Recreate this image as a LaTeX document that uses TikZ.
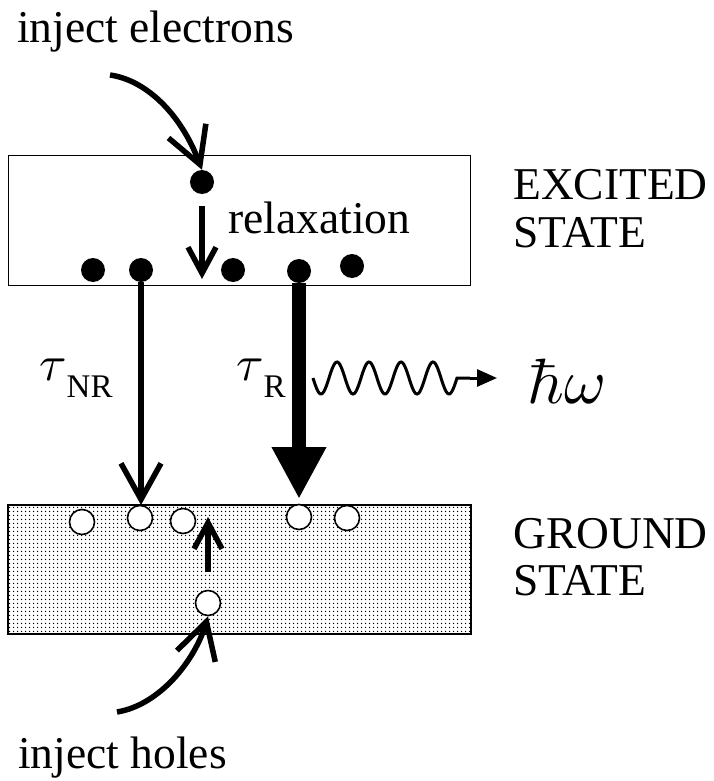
\documentclass[tikz,border=0pt]{standalone}
\usepackage[no-math]{fontspec}
\setmainfont{Liberation Serif}
\usepackage{graphicx}
\usetikzlibrary{arrows.meta,patterns}
\pgfdeclarepatternformonly{stip}{\pgfpointorigin}{\pgfpoint{4pt}{4pt}}{\pgfpoint{4pt}{4pt}}{\pgfpathcircle{\pgfpoint{2pt}{2pt}}{0.9pt}\pgfusepath{fill}}
\newcommand{\bigmath}[2]{\scalebox{#1}{\fontsize{10}{12}\selectfont$#2$}}
\begin{document}
\begin{tikzpicture}[x=1pt,y=-1pt,
  big/.style={font=\fontsize{45.5}{48}\selectfont, inner sep=0, anchor=base west},
  elec/.style={circle, fill, inner sep=0, minimum size=24},
  hole/.style={circle, draw, fill=white, line width=1.6, inner sep=0, minimum size=25},
  lvbox/.style={draw, line width=1.3, inner sep=0, anchor=north west, minimum width=462, minimum height=130},
  arr/.style={line width=5.5, -{Straight Barb[length=36,width=40]}},
  arrs/.style={line width=5.5, -{Straight Barb[length=26,width=28]}},
  thickarr/.style={line width=14, -{Triangle[length=52,width=51]}},
  wave/.style={line width=3}
]
\useasboundingbox (0,0) rectangle (714,781);
\fill[white] (0,0) rectangle (714,781);

% boxes
\node[lvbox] (exc) at (8,155) {};
\node[lvbox, pattern=stip, minimum height=128] (gnd) at (8,505) {};
\draw[line width=1.3] (gnd.north west) rectangle (gnd.south east);

% electrons
\node[elec] (e0) at (202,182) {};
\node[elec] (e1) at (93,270) {};
\node[elec] (e2) at (141,270) {};
\node[elec] (e3) at (233,270) {};
\node[elec] (e4) at (299,271) {};
\node[elec] (e5) at (352,266) {};

% holes
\node[hole] (h1) at (82,522) {};
\node[hole] (h2) at (140,518) {};
\node[hole] (h3) at (183,521) {};
\node[hole] (h4) at (299,517) {};
\node[hole] (h5) at (347,518) {};
\node[hole] (h0) at (208,603) {};

% texts
\node[big] (tie) at (17,43) {inject electrons};
\node[big] (trel) at (228,233) {relaxation};
\node[big] (texc1) at (513,199) {EXCITED};
\node[big] (texc2) at (513,247) {STATE};
\node[big] (tgnd1) at (513,548) {GROUND};
\node[big] (tgnd2) at (513,595) {STATE};
\node[big] (tih) at (18,768) {inject holes};
\node[big] (tnr) at (39,380) {\bigmath{5}{\tau}\raisebox{-17pt}{\fontsize{33}{35}\selectfont NR}};
\node[big] (tr) at (236,380) {\bigmath{5}{\tau}\raisebox{-17pt}{\fontsize{33}{35}\selectfont R}};
\node[big] (hw) at (527,403) {\bigmath{6.4}{\hbar\omega}};

% coordinates
\coordinate (ie) at (110,75);
\coordinate (ih) at (117,712);
\coordinate (relend) at (202,279);
\coordinate (hupend) at (208,517);
\coordinate (ws) at (313,378);
\coordinate (wtip) at (497,378);

% connectors
\draw[arr] (ie) .. controls (145,80) and (180,112) .. (e0.north);
\draw[arrs, shorten <=12] (e0) -- (relend);
\draw[arr] (e2.south) -- (e2.south |- gnd.north);
\draw[thickarr, shorten >=6] (e4.south) -- (e4.south |- gnd.north);
\draw[arrs, shorten <=18] (h0) -- (hupend);
\draw[arr] (ih) .. controls (160,705) and (195,660) .. (h0.south);

% wave
\draw[wave] plot[domain=313:457, samples=120, smooth] (\x, {378 - 16*sin(11.25*(\x-329))}) -- (470,378);
\draw[wave, -{Triangle[length=20,width=17]}] (470,378) -- (wtip);
\end{tikzpicture}
\end{document}
